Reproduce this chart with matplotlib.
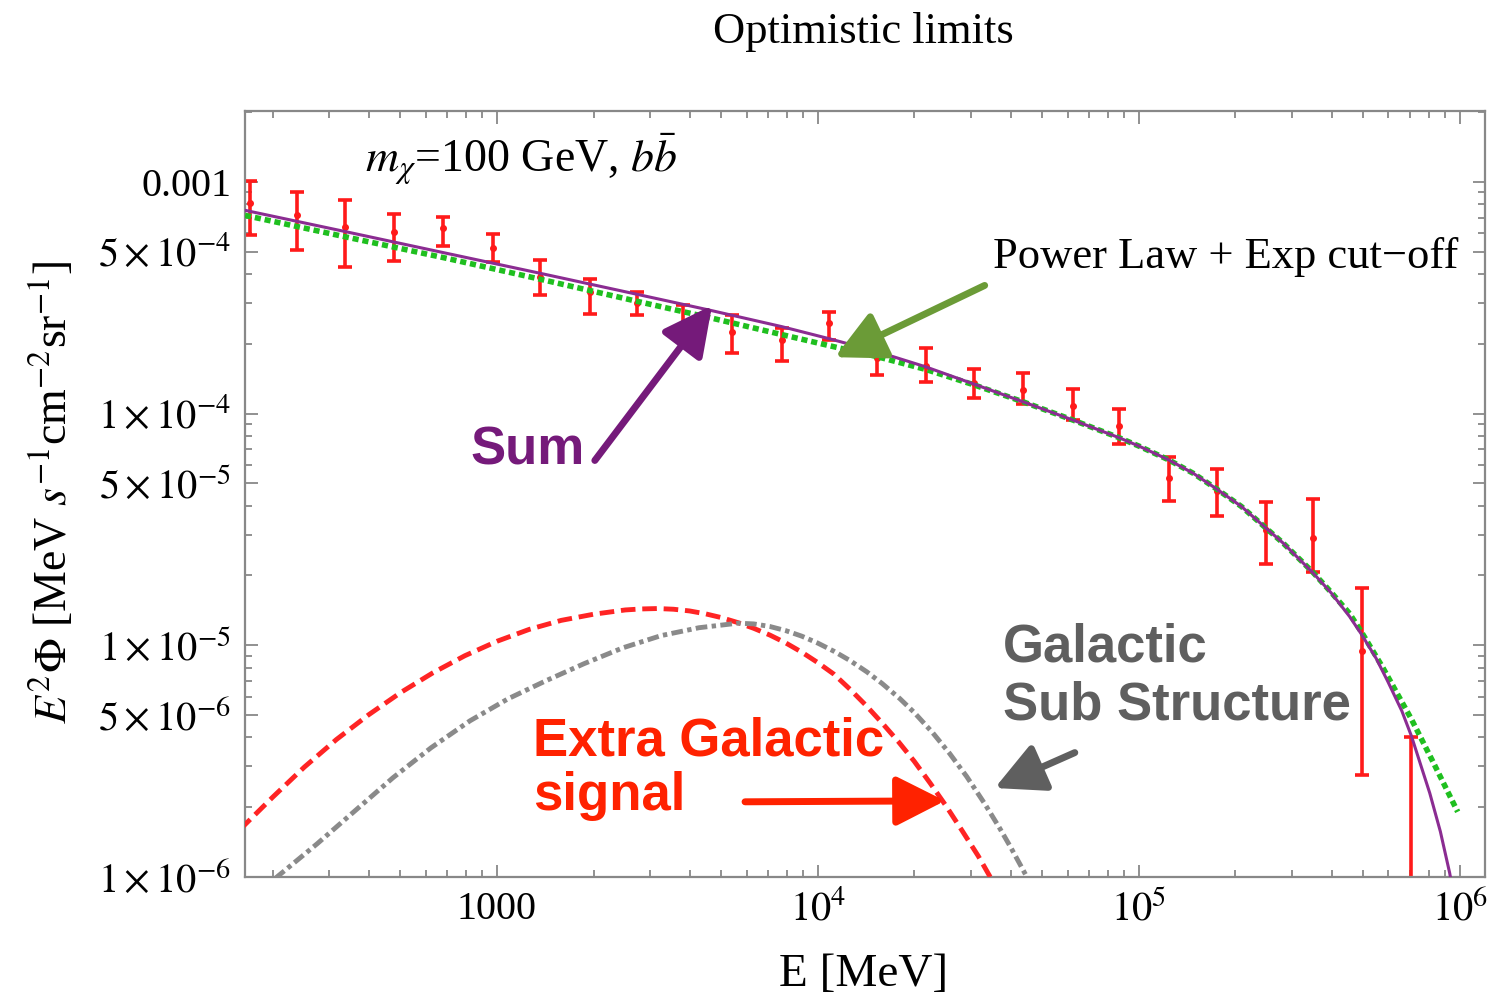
import numpy as np
import matplotlib.pyplot as plt
from matplotlib.ticker import FixedLocator, FixedFormatter, LogLocator, NullFormatter

plt.rcParams['font.family'] = ['Liberation Serif', 'DejaVu Serif']
plt.rcParams['mathtext.fontset'] = 'stix'

# measured diffuse gamma-ray points (MeV, MeV s^-1 cm^-2 sr^-1)
E_data = [170, 238, 336, 477, 679, 972, 1362, 1950, 2730, 3800, 5400, 7730,
          10800, 15300, 21700, 30600, 43500, 62300, 86600, 1.24e5, 1.75e5,
          2.50e5, 3.49e5, 4.95e5, 7.08e5]
flux_data = [8.07e-4, 7.16e-4, 6.35e-4, 6.05e-4, 6.30e-4, 5.16e-4, 3.87e-4,
             3.33e-4, 3.01e-4, 2.47e-4, 2.24e-4, 2.07e-4, 2.45e-4, 1.73e-4,
             1.61e-4, 1.35e-4, 1.26e-4, 1.08e-4, 8.87e-5, 5.29e-5, 4.65e-5,
             3.13e-5, 2.91e-5, 9.46e-6, 6.0e-7]
flux_hi = [1.01e-3, 9.02e-4, 8.32e-4, 7.24e-4, 7.03e-4, 5.93e-4, 4.58e-4,
           3.79e-4, 3.33e-4, 2.93e-4, 2.65e-4, 2.35e-4, 2.73e-4, 2.00e-4,
           1.91e-4, 1.56e-4, 1.49e-4, 1.27e-4, 1.05e-4, 6.52e-5, 5.78e-5,
           4.13e-5, 4.26e-5, 1.77e-5, 4.03e-6]
flux_lo = [5.87e-4, 5.10e-4, 4.28e-4, 4.54e-4, 5.26e-4, 4.49e-4, 3.24e-4,
           2.70e-4, 2.65e-4, 2.13e-4, 1.83e-4, 1.69e-4, 2.07e-4, 1.46e-4,
           1.37e-4, 1.17e-4, 1.10e-4, 9.33e-5, 7.41e-5, 4.21e-5, 3.62e-5,
           2.25e-5, 2.06e-5, 2.76e-6, 1.0e-8]

# total model (sum of all components)
E_sum = [164, 336, 679, 1361, 2729, 4613, 7727, 10890, 15280, 21680, 30620,
         43850, 62230, 86700, 100700, 123900, 147900, 175000, 208900, 250600,
         281800, 348300, 398100, 454000, 495500, 549500, 595700, 660700,
         707900, 807200, 871000, 931100, 977200]
sum_flux = [7.53e-4, 6.10e-4, 4.95e-4, 4.03e-4, 3.27e-4, 2.79e-4, 2.37e-4,
            2.10e-4, 1.85e-4, 1.59e-4, 1.34e-4, 1.12e-4, 9.38e-5, 7.87e-5,
            7.21e-5, 6.31e-5, 5.52e-5, 4.72e-5, 3.97e-5, 3.18e-5, 2.76e-5,
            2.06e-5, 1.68e-5, 1.33e-5, 1.11e-5, 8.77e-6, 7.03e-6, 5.20e-6,
            4.05e-6, 2.30e-6, 1.57e-6, 1.04e-6, 7.2e-7]

# power law with exponential cut-off
E_pl = [164, 336, 679, 1361, 2729, 4613, 7727, 10890, 15280, 21680, 30620,
        43850, 62230, 86700, 100700, 123900, 147900, 175000, 208900, 250600,
        281800, 348300, 398100, 454000, 495500, 575400, 707900, 824100, 986300]
pl_flux = [7.16e-4, 5.79e-4, 4.71e-4, 3.80e-4, 3.05e-4, 2.59e-4, 2.19e-4,
           1.96e-4, 1.76e-4, 1.55e-4, 1.33e-4, 1.12e-4, 9.38e-5, 7.87e-5,
           7.21e-5, 6.31e-5, 5.52e-5, 4.72e-5, 3.97e-5, 3.18e-5, 2.76e-5,
           2.07e-5, 1.69e-5, 1.37e-5, 1.135e-5, 8.04e-6, 4.79e-6, 3.16e-6,
           1.91e-6]

# extragalactic dark matter signal
E_eg = [158, 200, 251, 316, 398, 501, 631, 794, 1000, 1259, 1585, 1995, 2512,
        2818, 3162, 3548, 3981, 4467, 5012, 5623, 6310, 7079, 7943, 8913,
        10000, 11220, 12589, 14125, 15849, 17783, 19953, 22387, 25119, 28184,
        31623, 35481, 39811]
eg_flux = [1.60e-6, 2.21e-6, 2.98e-6, 3.92e-6, 5.01e-6, 6.25e-6, 7.60e-6,
           9.01e-6, 1.04e-5, 1.17e-5, 1.28e-5, 1.36e-5, 1.42e-5, 1.434e-5,
           1.44e-5, 1.43e-5, 1.406e-5, 1.366e-5, 1.315e-5, 1.253e-5, 1.183e-5,
           1.107e-5, 1.023e-5, 9.33e-6, 8.41e-6, 7.50e-6, 6.46e-6, 5.50e-6,
           4.62e-6, 3.85e-6, 3.16e-6, 2.54e-6, 2.02e-6, 1.58e-6, 1.23e-6,
           9.3e-7, 7.1e-7]

# galactic substructure signal
E_gal = [178, 208, 275, 361, 474, 623, 824, 1082, 1422, 1866, 2470, 3245,
         4260, 5636, 6310, 7079, 7943, 8913, 10000, 11220, 12589, 14220,
         15849, 17990, 19953, 22800, 25700, 29110, 33110, 36900, 39810,
         42560, 45710, 48980]
gal_flux = [8.4e-7, 1.01e-6, 1.39e-6, 1.93e-6, 2.68e-6, 3.61e-6, 4.72e-6,
            5.87e-6, 7.03e-6, 8.32e-6, 9.75e-6, 1.10e-5, 1.19e-5, 1.245e-5,
            1.236e-5, 1.205e-5, 1.156e-5, 1.094e-5, 1.021e-5, 9.42e-6,
            8.59e-6, 7.67e-6, 6.84e-6, 5.89e-6, 5.13e-6, 4.19e-6, 3.42e-6,
            2.71e-6, 2.07e-6, 1.62e-6, 1.35e-6, 1.14e-6, 9.5e-7, 7.8e-7]

x_ticks = [1e3, 1e4, 1e5, 1e6]
x_ticklabels = ['1000', r'$10^4$', r'$10^5$', r'$10^6$']
y_ticks = [1e-6, 5e-6, 1e-5, 5e-5, 1e-4, 5e-4, 1e-3]
y_ticklabels = [r'$1\times10^{-6}$', r'$5\times10^{-6}$', r'$1\times10^{-5}$',
                r'$5\times10^{-5}$', r'$1\times10^{-4}$', r'$5\times10^{-4}$',
                '0.001']

fig = plt.figure(figsize=(14.97, 10.02), dpi=100)
ax = fig.add_axes([0.1637, 0.1248, 0.8283, 0.7644])

E = np.array(E_data)
f = np.array(flux_data)
yerr = [f - np.array(flux_lo), np.array(flux_hi) - f]
ax.errorbar(E, f, yerr=yerr, fmt='o', ms=4, color='#ff1a1a', elinewidth=2.6,
            capsize=5, capthick=2.6, zorder=2)

ax.plot(E_eg, eg_flux, color='#ff2424', lw=3.5, dashes=(3.0, 1.4), zorder=3)
ax.plot(E_gal, gal_flux, color='#8a8a8a', lw=3.5, dashes=(2.4, 0.9, 0.9, 0.9), zorder=3)
ax.plot(E_pl, pl_flux, color='#1fbf1f', lw=4, dashes=(1.1, 0.7), zorder=3)
ax.plot(E_sum, sum_flux, color='#8b2c92', lw=2.2, zorder=4)

ax.set_xscale('log')
ax.set_yscale('log')
ax.set_xlim(164, 1.2e6)
ax.set_ylim(1e-6, 2.02e-3)

ax.xaxis.set_major_locator(FixedLocator(x_ticks))
ax.xaxis.set_major_formatter(FixedFormatter(x_ticklabels))
ax.xaxis.set_minor_locator(LogLocator(base=10, subs=np.arange(2, 10)))
ax.xaxis.set_minor_formatter(NullFormatter())
ax.yaxis.set_major_locator(FixedLocator(y_ticks))
ax.yaxis.set_major_formatter(FixedFormatter(y_ticklabels))
ax.yaxis.set_minor_locator(LogLocator(base=10, subs=np.arange(2, 10)))
ax.yaxis.set_minor_formatter(NullFormatter())

ax.tick_params(which='both', direction='in', top=True, right=True,
               color='#888888', width=1.3, labelsize=29, pad=10)
ax.tick_params(which='major', length=9)
ax.tick_params(which='minor', length=5)
for s in ax.spines.values():
    s.set_color('#888888')
    s.set_linewidth(1.6)

fig.text(0.577, 0.968, 'Optimistic limits', ha='center', va='center', fontsize=32)
fig.text(0.577, 0.027, 'E [MeV]', ha='center', va='center', fontsize=34)
fig.text(0.035, 0.509, r'$E^2\Phi$ [MeV $s^{-1}$cm$^{-2}$sr$^{-1}$]', rotation=90,
         ha='center', va='center', fontsize=33)

ax.text(388, 1.24e-3, r'$m_\chi$=100 GeV, $b\bar{b}$', ha='left', va='center', fontsize=33)
ax.text(3.51e4, 4.72e-4, 'Power Law + Exp cut\u2212off', ha='left', va='center', fontsize=32)

bold = dict(family=['Liberation Sans', 'DejaVu Sans'], weight='bold', fontsize=38)
ax.text(824, 6.92e-5, 'Sum', color='#751a7a', ha='left', va='center', **bold)
ax.text(3.77e4, 7.3e-6, 'Galactic\nSub Structure', color='#5f5f5f', ha='left',
        va='center', linespacing=1.2, **bold)
ax.text(1295, 2.93e-6, 'Extra Galactic\nsignal', color='#ff2200', ha='left',
        va='center', linespacing=1.1, **bold)


def arrow(tip, tail, color):
    ax.annotate('', xy=tip, xytext=tail,
                arrowprops=dict(arrowstyle='-|>,head_length=0.75,head_width=0.38',
                                lw=5, color=color, mutation_scale=40,
                                shrinkA=0, shrinkB=0), zorder=5)


arrow((4680, 2.93e-4), (2018, 6.27e-5), '#751a7a')
arrow((1.13e4, 1.75e-4), (3.31e4, 3.57e-4), '#6b9b37')
arrow((3.56e4, 2.42e-6), (6.32e4, 3.44e-6), '#5f5f5f')
arrow((2.49e4, 2.13e-6), (5930, 2.11e-6), '#ff2200')

plt.savefig('out.png', dpi=100)
